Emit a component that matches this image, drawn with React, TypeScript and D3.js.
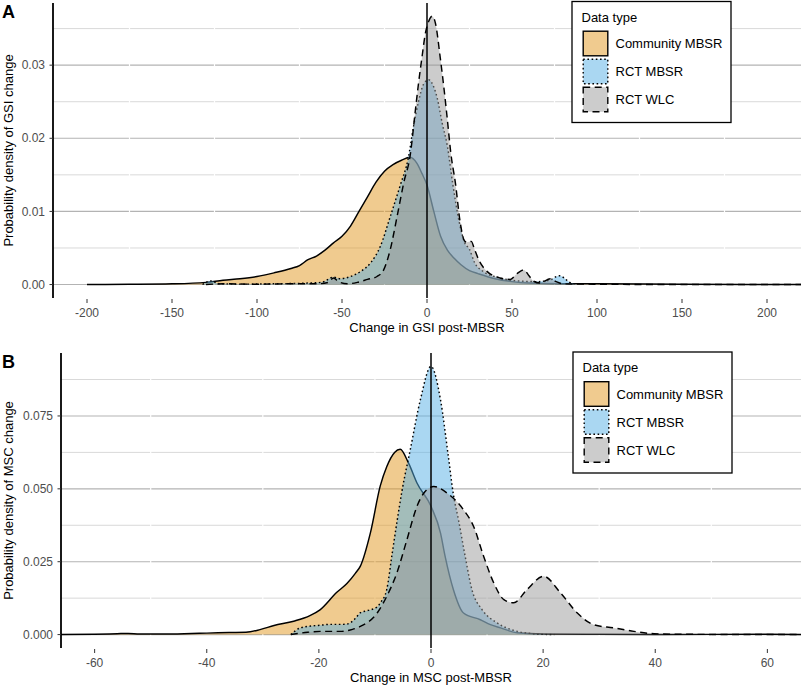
import React from 'react';
import * as d3 from 'd3';

// ---------- data ----------
const seriesNames = ['Community MBSR', 'RCT MBSR', 'RCT WLC'];
const fillColors = ['#E2981F', '#56B0E6', '#999999'];

// Panel A: GSI change
const gsiCommunityX = [-200, -175, -150, -130, -120, -110, -100, -90, -80, -75, -70, -65, -60, -55, -50, -45, -40, -35, -30, -25, -20, -15, -10, -6, -3, 0, 4, 8, 12, 16, 20, 25, 30, 40, 50, 60, 80, 100, 150, 220];
const gsiCommunityY = [0, 0.00003, 0.0001, 0.0003, 0.0006, 0.0008, 0.0011, 0.0016, 0.0022, 0.0026, 0.0034, 0.0039, 0.0047, 0.0057, 0.0066, 0.008, 0.01, 0.012, 0.014, 0.0155, 0.0164, 0.017, 0.0174, 0.0166, 0.0152, 0.0136, 0.01, 0.0066, 0.0047, 0.0036, 0.0027, 0.0019, 0.0015, 0.0008, 0.0004, 0.0002, 0.0001, 0.0001, 0.00004, 0];

const gsiRctX = [-132, -127, -122, -110, -90, -70, -62, -55, -51, -45, -39, -33, -27.5, -21.6, -15.7, -11, -8, -5, -2, 1, 4, 6, 9, 12, 15, 19, 22, 25, 28, 33, 43, 57, 65, 72, 78, 84, 88];
const gsiRctY = [0, 0.0005, 0.0001, 0.00005, 0.0001, 0.0002, 0.0003, 0.001, 0.0008, 0.0011, 0.0018, 0.003, 0.0052, 0.0093, 0.0136, 0.0173, 0.0215, 0.025, 0.0274, 0.028, 0.027, 0.0255, 0.022, 0.0189, 0.014, 0.0085, 0.0058, 0.0048, 0.003, 0.0018, 0.0009, 0.00045, 0.0004, 0.0006, 0.0012, 0.0003, 0];

const gsiWlcX = [-130, -120, -100, -80, -65, -58, -55, -52, -47, -41, -35, -29.4, -25.5, -21.6, -17.6, -13.7, -9.8, -7, -5, -3, -1, 1, 3, 5, 7.8, 10, 12, 14, 16.7, 19.6, 22, 23.5, 26, 28, 30.4, 35.3, 43, 49, 53, 57, 60, 62.7, 66.6, 72.5, 76, 80, 100, 150, 220];
const gsiWlcY = [0, 0.0001, 0.00005, 0.0001, 0.0001, 0.0003, 0.0009, 0.0004, 0.0001, 0.0003, 0.0007, 0.0011, 0.002, 0.0048, 0.0093, 0.0139, 0.0178, 0.0235, 0.0275, 0.031, 0.0343, 0.036, 0.0367, 0.0357, 0.031, 0.0268, 0.0225, 0.018, 0.0139, 0.0084, 0.006, 0.0058, 0.0059, 0.0048, 0.0034, 0.0018, 0.0009, 0.0007, 0.0015, 0.002, 0.0012, 0.00045, 0.0002, 0.0008, 0.0004, 0.0001, 0.00005, 0, 0];

// Panel B: MSC change
const mscCommunityX = [-66, -60, -56, -54, -52, -48, -44, -40, -36, -33, -30.5, -28, -24.5, -21.6, -19.8, -16.8, -15, -13.5, -12.6, -10.8, -9.05, -7.9, -6.5, -5.5, -4, -2.5, 0, 1.7, 2.5, 4, 5.8, 8.8, 10.6, 12.4, 15.4, 20, 30, 40, 60, 66];
const mscCommunityY = [0, 0.0001, 0.0003, 0.0004, 0.0002, 0.0002, 0.0003, 0.0005, 0.0007, 0.0008, 0.0017, 0.0031, 0.0046, 0.0065, 0.0085, 0.0145, 0.0175, 0.021, 0.0235, 0.035, 0.051, 0.0576, 0.0625, 0.0636, 0.0588, 0.052, 0.044, 0.0348, 0.027, 0.0154, 0.0074, 0.0051, 0.0034, 0.0023, 0.0006, 0.0002, 0.0001, 0.00005, 0.0001, 0];

const mscRctX = [-25, -23.3, -21, -19.8, -18, -16, -15, -13.5, -12.6, -11.4, -9.6, -9, -7.9, -7, -6.1, -5.2, -3.7, -1.9, 0, 1.7, 3.1, 4, 4.9, 6.1, 7.3, 9.1, 11.8, 15.4, 18.4, 22];
const mscRctY = [0, 0.0023, 0.003, 0.0032, 0.0035, 0.0035, 0.0036, 0.0055, 0.0075, 0.0082, 0.0095, 0.011, 0.0154, 0.0268, 0.0383, 0.049, 0.0634, 0.0805, 0.092, 0.0805, 0.061, 0.048, 0.0394, 0.0268, 0.0154, 0.0086, 0.004, 0.0011, 0.0003, 0];

const mscWlcX = [-25, -22, -19.8, -16.2, -14, -12.6, -9.6, -7.9, -6.1, -4.3, -2.5, -1.3, 0.5, 2.9, 5.8, 7.6, 9.4, 11.2, 13, 14.75, 17.1, 20.1, 23.1, 26.1, 29, 32.6, 36.2, 39.8, 45, 66];
const mscWlcY = [0, 0.0008, 0.0011, 0.0011, 0.0018, 0.0028, 0.0074, 0.0131, 0.0211, 0.0325, 0.044, 0.0485, 0.0508, 0.0485, 0.0428, 0.0371, 0.0268, 0.0177, 0.012, 0.0109, 0.0154, 0.02, 0.0143, 0.0074, 0.0034, 0.0023, 0.0011, 0.0003, 0.0001, 0];

const gsiXTicks = [-200, -150, -100, -50, 0, 50, 100, 150, 200];
const gsiXMinor = [-175, -125, -75, -25, 25, 75, 125, 175];
const gsiYTicks = [0, 0.01, 0.02, 0.03];
const gsiYTickLabels = ['0.00', '0.01', '0.02', '0.03'];
const gsiYMinor = [0.005, 0.015, 0.025, 0.035];

const mscXTicks = [-60, -40, -20, 0, 20, 40, 60];
const mscXMinor = [-50, -30, -10, 10, 30, 50];
const mscYTicks = [0, 0.025, 0.05, 0.075];
const mscYTickLabels = ['0.000', '0.025', '0.050', '0.075'];
const mscYMinor = [0.0125, 0.0375, 0.0625, 0.0875];

// ---------- styling ----------
const FONT = '"Liberation Sans", Arial, Helvetica, sans-serif';
const dashArrays = [undefined, '1.6 2.6', '7 4.5'];

type Series = { xs: number[]; ys: number[] };

interface PanelProps {
  label: string;
  left: number;
  right: number;
  top: number;
  bottom: number;
  xDomain: [number, number];
  yDomain: [number, number];
  series: Series[];
  xTicks: number[];
  xMinor: number[];
  yTicks: number[];
  yTickLabels: string[];
  yMinor: number[];
  xTitle: string;
  yTitle: string;
  legendX: number;
  legendY: number;
}

function Panel(p: PanelProps) {
  const x = d3.scaleLinear().domain(p.xDomain).range([p.left, p.right]);
  const y = d3.scaleLinear().domain(p.yDomain).range([p.bottom, p.top]);
  const area = d3
    .area<[number, number]>()
    .x((d) => x(d[0]))
    .y0(y(0))
    .y1((d) => y(d[1]))
    .curve(d3.curveMonotoneX);
  const line = d3
    .line<[number, number]>()
    .x((d) => x(d[0]))
    .y((d) => y(d[1]))
    .curve(d3.curveMonotoneX);
  const clipId = 'clip-' + p.label;
  const midY = (p.top + p.bottom) / 2;
  const midX = (p.left + p.right) / 2;
  const lw = 159;
  const lh = 121;
  return (
    <g>
      <defs>
        <clipPath id={clipId}>
          <rect x={p.left} y={p.top} width={p.right - p.left} height={p.bottom - p.top} />
        </clipPath>
      </defs>
      {/* grid */}
      {p.yMinor.map((v, i) => (
        <line key={'ym' + i} x1={p.left} x2={p.right} y1={y(v)} y2={y(v)} stroke="#D9D9D9" strokeWidth={1} />
      ))}
      {p.yTicks.map((v, i) => (
        <line key={'yM' + i} x1={p.left} x2={p.right} y1={y(v)} y2={y(v)} stroke="#B3B3B3" strokeWidth={1.1} />
      ))}
      {p.xMinor.map((v, i) => (
        <line key={'xm' + i} x1={x(v)} x2={x(v)} y1={p.top} y2={p.bottom} stroke="#FFFFFF" strokeWidth={1.2} />
      ))}
      {/* densities */}
      <g clipPath={`url(#${clipId})`}>
        {p.series.map((s, i) => {
          const pts = s.xs.map((xv, k) => [xv, s.ys[k]] as [number, number]);
          return (
            <g key={'s' + i}>
              <path d={area(pts) || ''} fill={fillColors[i]} fillOpacity={0.5} stroke="none" />
              <path
                d={line(pts) || ''}
                fill="none"
                stroke="#000"
                strokeWidth={1.45}
                strokeDasharray={dashArrays[i]}
                strokeLinejoin="round"
              />
            </g>
          );
        })}
      </g>
      {/* zero line */}
      <line x1={x(0)} x2={x(0)} y1={p.top} y2={p.bottom} stroke="#000" strokeWidth={1.5} />
      {/* y axis */}
      <line x1={p.left} x2={p.left} y1={p.top} y2={p.bottom} stroke="#000" strokeWidth={1.8} />
      {p.yTicks.map((v, i) => (
        <g key={'yt' + i}>
          <line x1={p.left - 3.5} x2={p.left} y1={y(v)} y2={y(v)} stroke="#333" strokeWidth={1} />
          <text x={p.left - 8} y={y(v)} dy="0.35em" textAnchor="end" fontSize={12} fill="#4D4D4D" fontFamily={FONT}>
            {p.yTickLabels[i]}
          </text>
        </g>
      ))}
      {p.xTicks.map((v, i) => (
        <g key={'xt' + i}>
          <line x1={x(v)} x2={x(v)} y1={p.bottom + 1} y2={p.bottom + 5} stroke="#333" strokeWidth={1} />
          <text x={x(v)} y={p.bottom + 19} textAnchor="middle" fontSize={12} fill="#4D4D4D" fontFamily={FONT}>
            {String(v)}
          </text>
        </g>
      ))}
      <text x={midX} y={p.bottom + 33.5} textAnchor="middle" fontSize={13} fill="#000" fontFamily={FONT}>
        {p.xTitle}
      </text>
      <text
        transform={`translate(12.5,${midY}) rotate(-90)`}
        textAnchor="middle"
        fontSize={13}
        fill="#000"
        fontFamily={FONT}
      >
        {p.yTitle}
      </text>
      <text x={2} y={p.top + 15} fontSize={18} fontWeight="bold" fill="#000" fontFamily={FONT}>
        {p.label}
      </text>
      {/* legend */}
      <g transform={`translate(${p.legendX},${p.legendY})`}>
        <rect x={0} y={0} width={lw} height={lh} fill="#fff" stroke="#000" strokeWidth={1.3} />
        <text x={9.5} y={20} fontSize={13} fill="#000" fontFamily={FONT}>
          Data type
        </text>
        {seriesNames.map((n, i) => (
          <g key={'lg' + i} transform={`translate(10.5,${29 + i * 28})`}>
            <rect x={0} y={0} width={26} height={26} fill="#fff" />
            <rect
              x={0.7}
              y={0.7}
              width={24.6}
              height={24.6}
              fill={fillColors[i]}
              fillOpacity={0.5}
              stroke="#000"
              strokeWidth={1.4}
              strokeDasharray={dashArrays[i]}
            />
            <text x={33} y={13} dy="0.35em" fontSize={13} fill="#000" fontFamily={FONT}>
              {n}
            </text>
          </g>
        ))}
      </g>
    </g>
  );
}

export default function App() {
  const gsiSeries: Series[] = [
    { xs: gsiCommunityX, ys: gsiCommunityY },
    { xs: gsiRctX, ys: gsiRctY },
    { xs: gsiWlcX, ys: gsiWlcY },
  ];
  const mscSeries: Series[] = [
    { xs: mscCommunityX, ys: mscCommunityY },
    { xs: mscRctX, ys: mscRctY },
    { xs: mscWlcX, ys: mscWlcY },
  ];
  return (
    <svg
      width={801}
      height={686}
      viewBox="0 0 801 686"
      style={{ position: 'absolute', left: 0, top: 0, background: '#fff' }}
    >
      <rect x={0} y={0} width={801} height={686} fill="#fff" />
      <Panel
        label="A"
        left={53}
        right={801}
        top={3}
        bottom={298}
        xDomain={[-220, 220]}
        yDomain={[-0.00184, 0.0385]}
        series={gsiSeries}
        xTicks={gsiXTicks}
        xMinor={gsiXMinor}
        yTicks={gsiYTicks}
        yTickLabels={gsiYTickLabels}
        yMinor={gsiYMinor}
        xTitle="Change in GSI post-MBSR"
        yTitle="Probability density of GSI change"
        legendX={572}
        legendY={1.5}
      />
      <Panel
        label="B"
        left={61}
        right={801}
        top={353}
        bottom={648}
        xDomain={[-66, 66]}
        yDomain={[-0.0046, 0.0966]}
        series={mscSeries}
        xTicks={mscXTicks}
        xMinor={mscXMinor}
        yTicks={mscYTicks}
        yTickLabels={mscYTickLabels}
        yMinor={mscYMinor}
        xTitle="Change in MSC post-MBSR"
        yTitle="Probability density of MSC change"
        legendX={573}
        legendY={352}
      />
    </svg>
  );
}
